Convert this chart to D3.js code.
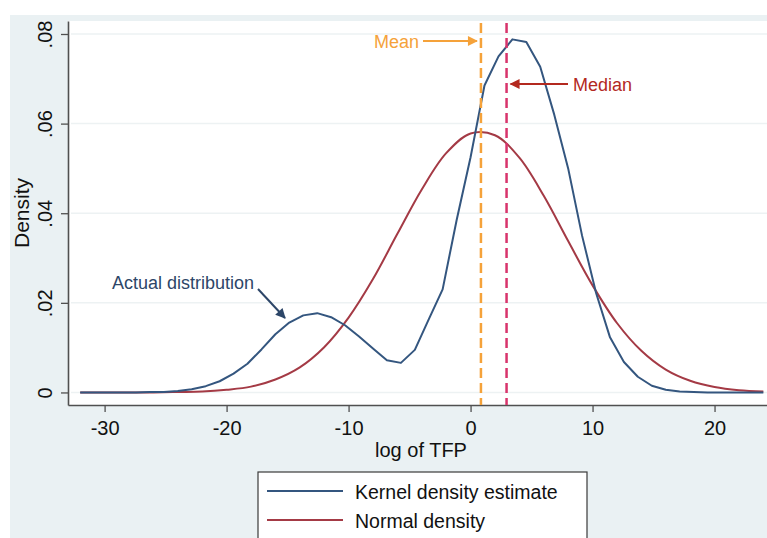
<!DOCTYPE html>
<html>
<head>
<meta charset="utf-8">
<script src="https://cdn.jsdelivr.net/npm/d3@7"></script>
<style>
  html, body { margin: 0; padding: 0; background: #ffffff; }
  svg { display: block; }
  text { font-family: "Liberation Sans", Arial, Helvetica, sans-serif; }
</style>
</head>
<body>
<svg id="chart" width="767" height="538"></svg>
<script>
// ---------------- data ----------------
const kdeX = [-32.00, -30.86, -29.71, -28.57, -27.43, -26.29, -25.14, -24.00, -22.86, -21.71,
              -20.57, -19.43, -18.29, -17.14, -16.00, -14.86, -13.71, -12.57, -11.43, -10.29,
              -9.14, -8.00, -6.86, -5.71, -4.57, -3.43, -2.29, -1.14, 0.00, 1.14,
              2.29, 3.43, 4.57, 5.71, 6.86, 8.00, 9.14, 10.29, 11.43, 12.57,
              13.71, 14.86, 16.00, 17.14, 18.29, 19.43, 20.57, 21.71, 22.86, 24.00];
const kdeY = [0.0000, 0.0000, 0.0000, 0.0000, 0.0000, 0.0001, 0.0001, 0.0003, 0.0007, 0.0014,
              0.0025, 0.0042, 0.0064, 0.0096, 0.0130, 0.0156, 0.0172, 0.0177, 0.0168, 0.0150,
              0.0125, 0.0098, 0.0072, 0.0066, 0.0095, 0.0163, 0.0230, 0.0385, 0.0525, 0.0685,
              0.0750, 0.0788, 0.0782, 0.0727, 0.0620, 0.0500, 0.0350, 0.0222, 0.0123, 0.0068,
              0.0035, 0.0015, 0.0006, 0.0002, 0.0001, 0.0000, 0.0000, 0.0000, 0.0000, 0.0000];

const normX = [-32, -30, -28, -26, -24, -22, -20, -18, -16, -14, -12, -10, -8, -6, -4, -2,
               0, 2, 4, 6, 8, 10, 12, 14, 16, 18, 20, 22, 24];
const normY = [0.0000, 0.0000, 0.0000, 0.0000, 0.0001, 0.0002, 0.0006, 0.0013, 0.0029, 0.0056,
               0.0101, 0.0167, 0.0253, 0.0354, 0.0453, 0.0534, 0.0578, 0.0574, 0.0524, 0.0439,
               0.0338, 0.0239, 0.0155, 0.0093, 0.0051, 0.0026, 0.0012, 0.0005, 0.0002];

const meanValue = 0.85;
const medianValue = 2.95;

const xTicks = [-30, -20, -10, 0, 10, 20];
const yTicks = [0, 0.02, 0.04, 0.06, 0.08];
const yTickLabels = ["0", ".02", ".04", ".06", ".08"];

const xTitle = "log of TFP";
const yTitle = "Density";
const legendLabels = ["Kernel density estimate", "Normal density"];
const annotations = { mean: "Mean", median: "Median", actual: "Actual distribution" };

// ---------------- layout ----------------
const W = 767, H = 538;
const plot = { left: 68, right: 767, top: 21, bottom: 405 };
const colors = {
  kde: "#34567f",
  norm: "#a43a45",
  mean: "#f5a23a",
  median: "#d8346b",
  medianText: "#b3291f",
  actualText: "#2d4668",
  bg: "#eaf1f3",
  grid: "#edf2f3",
  axis: "#505050"
};

const svg = d3.select("#chart");

const defs = svg.append("defs");
function marker(id, color) {
  defs.append("marker")
    .attr("id", id)
    .attr("viewBox", "0 0 10 10")
    .attr("refX", 9).attr("refY", 5)
    .attr("markerWidth", 5.5).attr("markerHeight", 5)
    .attr("markerUnits", "strokeWidth")
    .attr("orient", "auto")
    .append("path")
    .attr("d", "M0,0 L10,5 L0,10 z")
    .attr("fill", color);
}
marker("arMean", colors.mean);
marker("arMedian", colors.medianText);
marker("arActual", colors.actualText);

// backgrounds
svg.append("rect").attr("x", 0).attr("y", 0).attr("width", W).attr("height", H).attr("fill", "#ffffff");
svg.append("rect").attr("x", 10).attr("y", 15).attr("width", W - 10).attr("height", H - 15).attr("fill", colors.bg);
svg.append("rect").attr("x", plot.left).attr("y", plot.top)
  .attr("width", plot.right - plot.left).attr("height", plot.bottom - plot.top).attr("fill", "#ffffff");

// scales
const x = d3.scaleLinear().domain([-33, 24.3]).range([plot.left, plot.right]);
const y = d3.scaleLinear().domain([-0.0028, 0.0829]).range([plot.bottom, plot.top]);

// grid
svg.append("g").selectAll("line").data(yTicks).join("line")
  .attr("x1", plot.left + 3).attr("x2", plot.right)
  .attr("y1", d => y(d)).attr("y2", d => y(d))
  .attr("stroke", colors.grid).attr("stroke-width", 1.5);

// axes
const xAxis = svg.append("g")
  .attr("transform", `translate(0,${plot.bottom})`)
  .call(d3.axisBottom(x).tickValues(xTicks).tickSize(7).tickSizeOuter(0).tickPadding(9).tickFormat(d3.format("d")));
xAxis.select(".domain").attr("stroke", colors.axis).attr("stroke-width", 1.6);
xAxis.selectAll(".tick line").attr("stroke", colors.axis).attr("stroke-width", 1.3);
xAxis.selectAll(".tick text")
  .text(d => String(d).replace("-", "-"))
  .attr("font-size", 20).attr("fill", "#111")
  .attr("font-family", "'Liberation Sans', Arial, sans-serif");

const yAxis = svg.append("g")
  .attr("transform", `translate(${plot.left},0)`)
  .call(d3.axisLeft(y).tickValues(yTicks).tickSize(7).tickSizeOuter(0).tickFormat((d, i) => yTickLabels[i]));
yAxis.select(".domain").attr("stroke", colors.axis).attr("stroke-width", 1.6);
yAxis.selectAll(".tick line").attr("stroke", colors.axis).attr("stroke-width", 1.3);
yAxis.selectAll(".tick text")
  .attr("transform", "rotate(-90)")
  .attr("x", 0).attr("y", -16).attr("dy", 0)
  .attr("text-anchor", "middle")
  .attr("font-size", 20).attr("fill", "#111")
  .attr("font-family", "'Liberation Sans', Arial, sans-serif");

// axis titles
svg.append("text")
  .attr("x", 421).attr("y", 457)
  .attr("text-anchor", "middle").attr("font-size", 20).attr("fill", "#111")
  .text(xTitle);
svg.append("text")
  .attr("transform", `translate(29,${(plot.top + plot.bottom) / 2}) rotate(-90)`)
  .attr("text-anchor", "middle").attr("font-size", 21).attr("fill", "#111")
  .text(yTitle);

// curves
const kdeData = kdeX.map((v, i) => [v, kdeY[i]]);
const normData = normX.map((v, i) => [v, normY[i]]);

svg.append("path").datum(normData)
  .attr("fill", "none").attr("stroke", colors.norm).attr("stroke-width", 2)
  .attr("d", d3.line().x(d => x(d[0])).y(d => y(d[1])).curve(d3.curveCatmullRom.alpha(0.5)));

svg.append("path").datum(kdeData)
  .attr("fill", "none").attr("stroke", colors.kde).attr("stroke-width", 2)
  .attr("stroke-linejoin", "round")
  .attr("d", d3.line().x(d => x(d[0])).y(d => y(d[1])));

// mean / median lines
svg.append("line")
  .attr("x1", x(meanValue)).attr("x2", x(meanValue))
  .attr("y1", plot.top + 2).attr("y2", plot.bottom)
  .attr("stroke", colors.mean).attr("stroke-width", 2.5).attr("stroke-dasharray", "10,5");
svg.append("line")
  .attr("x1", x(medianValue)).attr("x2", x(medianValue))
  .attr("y1", plot.top + 2).attr("y2", plot.bottom)
  .attr("stroke", colors.median).attr("stroke-width", 2.5).attr("stroke-dasharray", "10,5");

// annotations
svg.append("text").attr("x", 374).attr("y", 47.5)
  .attr("font-size", 18).attr("fill", colors.mean).text(annotations.mean);
svg.append("line").attr("x1", 423).attr("y1", 41).attr("x2", x(meanValue) - 4).attr("y2", 41)
  .attr("stroke", colors.mean).attr("stroke-width", 2).attr("marker-end", "url(#arMean)");

svg.append("text").attr("x", 573).attr("y", 90.5)
  .attr("font-size", 18).attr("fill", colors.medianText).text(annotations.median);
svg.append("line").attr("x1", 568).attr("y1", 84).attr("x2", x(medianValue) + 4).attr("y2", 84)
  .attr("stroke", colors.medianText).attr("stroke-width", 2).attr("marker-end", "url(#arMedian)");

svg.append("text").attr("x", 112).attr("y", 289)
  .attr("font-size", 18).attr("fill", colors.actualText).text(annotations.actual);
svg.append("line").attr("x1", 258).attr("y1", 289).attr("x2", 285).attr("y2", 318)
  .attr("stroke", colors.actualText).attr("stroke-width", 2).attr("marker-end", "url(#arActual)");

// legend
const lg = svg.append("g");
lg.append("rect").attr("x", 258).attr("y", 472).attr("width", 329).attr("height", 80)
  .attr("fill", "#ffffff").attr("stroke", "#3a3a3a").attr("stroke-width", 1.2);
const legendColors = [colors.kde, colors.norm];
legendLabels.forEach((lab, i) => {
  const ly = 491 + i * 29;
  lg.append("line").attr("x1", 267).attr("x2", 343).attr("y1", ly).attr("y2", ly)
    .attr("stroke", legendColors[i]).attr("stroke-width", 2);
  lg.append("text").attr("x", 355).attr("y", ly + 7.5)
    .attr("font-size", 19.5).attr("fill", "#111").text(lab);
});
</script>
</body>
</html>
